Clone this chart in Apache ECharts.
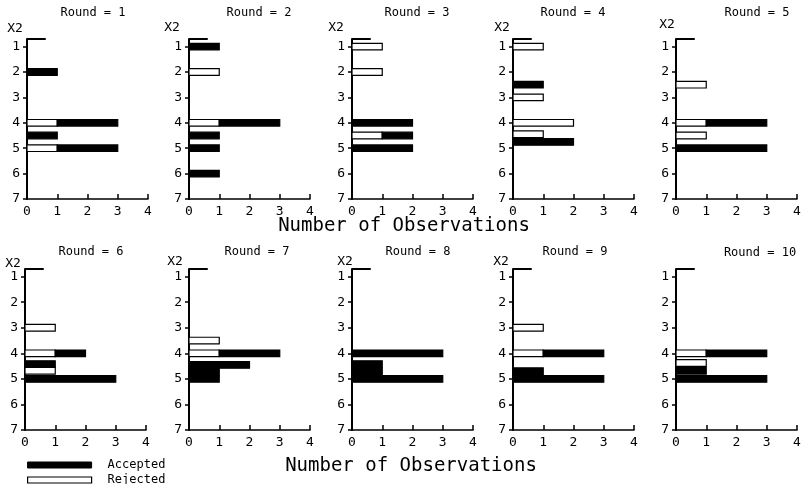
<!DOCTYPE html>
<html>
<head>
<meta charset="utf-8">
<script src="https://cdn.jsdelivr.net/npm/echarts@6/dist/echarts.min.js"></script>
<style>
    html, body { margin: 0; padding: 0; background: #fff; }
    #main { width: 804px; height: 484px; }
</style>
</head>
<body>
<div id="main"></div>
<script type="text/javascript">
    // data
    var rounds = ['Round = 1', 'Round = 2', 'Round = 3', 'Round = 4', 'Round = 5',
                  'Round = 6', 'Round = 7', 'Round = 8', 'Round = 9', 'Round = 10'];
    var xTicks = [0, 1, 2, 3, 4];
    var x2Ticks = [1, 2, 3, 4, 5, 6, 7];
    // X2 position of each bar
    var barPos = [
        [2, 4, 4.5, 5],
        [1, 2, 4, 4.5, 5, 6],
        [1, 2, 4, 4.5, 5],
        [1, 2.5, 3, 4, 4.45, 4.75],
        [2.5, 4, 4.5, 5],
        [3, 4, 4.42, 4.68, 5],
        [3.5, 4, 4.45, 4.72, 5],
        [4, 4.42, 4.7, 5],
        [3, 4, 4.7, 5],
        [4, 4.38, 4.68, 5]
    ];
    var rejected = [
        [0, 1, 0, 1],
        [0, 1, 1, 0, 0, 0],
        [1, 1, 0, 1, 0],
        [1, 0, 1, 2, 1, 0],
        [1, 1, 1, 0],
        [1, 1, 0, 1, 0],
        [1, 1, 0, 0, 0],
        [0, 0, 0, 0],
        [1, 1, 0, 0],
        [1, 1, 0, 0]
    ];
    var accepted = [
        [1, 2, 1, 2],
        [1, 0, 2, 1, 1, 1],
        [0, 0, 2, 1, 2],
        [0, 1, 0, 0, 0, 2],
        [0, 2, 0, 3],
        [0, 1, 1, 0, 3],
        [0, 2, 2, 1, 1],
        [3, 1, 1, 3],
        [0, 2, 1, 3],
        [2, 0, 1, 3]
    ];

    // layout of the ten small panels
    var gridLeft = [27, 189, 352, 513, 676, 25, 189, 352, 513, 676];
    var gridTop = [39, 39, 39, 39, 39, 269, 269, 269, 269, 269];
    var gridW = 121, gridH = 160;
    var titleX = [93, 259, 417, 573, 757, 91, 257, 418, 575, 760];
    var titleY = [13, 13, 13, 13, 13, 252, 252, 252, 252, 253];
    var x2X = [15, 172, 336, 502, 667, 13, 175, 345, 501, null];
    var x2Y = [29, 28, 28, 28, 25, 264, 262, 262, 262, null];

    var FONT = '"DejaVu Sans Mono", monospace';
    var BAR_THICK = 0.26;

    function makeBar(fill) {
        return function (params, api) {
            var y = api.value(0);
            var p0 = api.coord([api.value(1), y]);
            var p1 = api.coord([api.value(2), y]);
            var h = api.size([0, BAR_THICK])[1];
            return {
                type: 'rect',
                shape: {x: p0[0], y: p0[1] - h / 2, width: p1[0] - p0[0], height: h},
                style: {fill: fill, stroke: '#000', lineWidth: 1.2}
            };
        };
    }

    var grids = [], xAxes = [], yAxes = [], series = [], graphics = [];

    for (var i = 0; i < rounds.length; i++) {
        grids.push({left: gridLeft[i], top: gridTop[i], width: gridW, height: i < 5 ? gridH : gridH + 1});
        xAxes.push({
            type: 'value', gridIndex: i, min: 0, max: 4, interval: 1,
            position: 'bottom',
            splitLine: {show: false},
            axisLine: {onZero: false, lineStyle: {color: '#000', width: 1.5}},
            axisTick: {inside: true, length: 5, lineStyle: {color: '#000', width: 1.5}},
            axisLabel: {margin: 6, fontSize: 13, color: '#000', fontFamily: FONT}
        });
        yAxes.push({
            type: 'value', gridIndex: i, min: 0.7, max: 7, inverse: true,
            position: 'left',
            splitLine: {show: false},
            axisLine: {onZero: false, lineStyle: {color: '#000', width: 2}},
            axisTick: {customValues: x2Ticks, length: 4, lineStyle: {color: '#000', width: 1.5}},
            axisLabel: {customValues: x2Ticks, margin: 7, fontSize: 13, color: '#000', fontFamily: FONT}
        });

        var rejData = [], accData = [];
        for (var j = 0; j < barPos[i].length; j++) {
            var r = rejected[i][j], a = accepted[i][j];
            if (r > 0) rejData.push([barPos[i][j], 0, r]);
            if (a > 0) accData.push([barPos[i][j], r, r + a]);
        }
        series.push({
            type: 'custom', name: 'Rejected', xAxisIndex: i, yAxisIndex: i,
            renderItem: makeBar('#fff'), encode: {x: [1, 2], y: 0},
            data: rejData, z: 3
        });
        series.push({
            type: 'custom', name: 'Accepted', xAxisIndex: i, yAxisIndex: i,
            renderItem: makeBar('#000'), encode: {x: [1, 2], y: 0},
            data: accData, z: 3,
            // short stroke at the top of the X2 axis
            markLine: {
                silent: true, symbol: 'none', animation: false,
                label: {show: false},
                lineStyle: {color: '#000', width: 2, type: 'solid'},
                data: [[{coord: [0, 0.7]}, {coord: [0.62, 0.7]}]]
            }
        });

        graphics.push({
            type: 'text', x: titleX[i], y: titleY[i],
            style: {text: rounds[i], font: '12px ' + FONT, fill: '#000', align: 'center', verticalAlign: 'middle'}
        });
        if (x2X[i] !== null) {
            graphics.push({
                type: 'text', x: x2X[i], y: x2Y[i],
                style: {text: 'X2', font: '13px ' + FONT, fill: '#000', align: 'center', verticalAlign: 'middle'}
            });
        }
    }

    graphics.push({
        type: 'text', x: 404, y: 226,
        style: {text: 'Number of Observations', font: '19px ' + FONT, fill: '#000', align: 'center', verticalAlign: 'middle'}
    });
    graphics.push({
        type: 'text', x: 411, y: 466,
        style: {text: 'Number of Observations', font: '19px ' + FONT, fill: '#000', align: 'center', verticalAlign: 'middle'}
    });

    var option = {
        animation: false,
        backgroundColor: '#fff',
        grid: grids,
        xAxis: xAxes,
        yAxis: yAxes,
        legend: {
            orient: 'vertical', left: 27, top: 459, height: 40, padding: 0,
            itemWidth: 64, itemHeight: 6, itemGap: 3,
            selectedMode: false,
            textStyle: {fontSize: 12, fontFamily: FONT, color: '#000', lineHeight: 12, padding: [0, 0, 0, 11]},
            data: [
                {name: 'Accepted', icon: 'rect', itemStyle: {color: '#000', borderColor: '#000', borderWidth: 1}},
                {name: 'Rejected', icon: 'rect', itemStyle: {color: '#fff', borderColor: '#000', borderWidth: 1.2}}
            ]
        },
        graphic: graphics,
        series: series
    };

    var myChart = echarts.init(document.getElementById('main'));
    myChart.setOption(option);
</script>
</body>
</html>
